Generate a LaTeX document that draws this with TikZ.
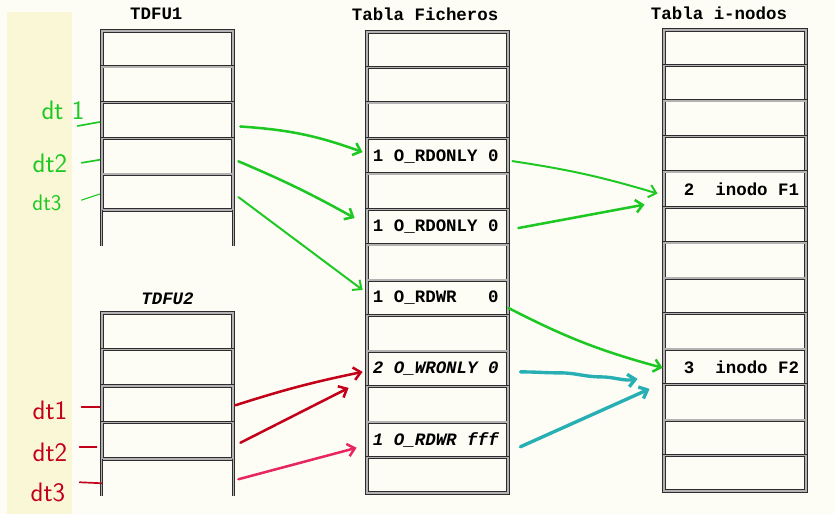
\documentclass[tikz,border=0pt]{standalone}
\usepackage{fontspec}
\setmonofont{Liberation Mono}
\usepackage{tikz}
\usetikzlibrary{arrows.meta, positioning, calc}
\definecolor{papel}{RGB}{253, 253, 246}
\definecolor{tira}{RGB}{249, 247, 214}
\definecolor{marco}{RGB}{45, 45, 45}
\definecolor{verde}{RGB}{30, 200, 35}
\definecolor{rojo}{RGB}{195, 0, 25}
\definecolor{rosa}{RGB}{230, 40, 95}
\definecolor{turquesa}{RGB}{40, 175, 180}

\begin{document}
\begin{tikzpicture}[
        x=0.025cm, y=-0.025cm,
        borde/.style={draw=marco, line width=0.55pt, double=black!30, double distance=1.1pt},
        celda/.style={rectangle, borde, inner xsep=0.15cm, inner ysep=0pt, align=flush left, font=\ttfamily\bfseries\fontsize{12.4}{14}\selectfont},
        tdfu/.style={celda, text width=2.975cm, minimum height=0.895cm},
        tdfub/.style={celda, text width=2.975cm, minimum height=0.9125cm},
        fich/.style={celda, text width=3.225cm, minimum height=0.8865cm},
        inodo/.style={celda, text width=3.25cm, minimum height=0.8865cm},
        titulo/.style={font=\ttfamily\bfseries\fontsize{12.4}{14}\selectfont, inner sep=0pt},
        mano/.style={font=\sffamily\fontsize{19}{20}\selectfont, inner sep=0pt},
        flecha/.style={-{Straight Barb[length=5pt,width=9pt]}, line width=1.8pt, line cap=round, line join=round},
        raya/.style={line width=1.2pt, line cap=round}
    ]
        \fill[papel] (0,0) rectangle (834,514);
        \fill[tira] (7,12) rectangle (72,514);
        \useasboundingbox (0,0) rectangle (834,514);

        % TDFU1
        \foreach \n in {1,...,5}
            \node[tdfu] (t\n) at (167.5, {31+35.8*(\n-0.5)}) {};
        \node[tdfu, draw=none] (t6) at (167.5, {31+35.8*5.5}) {};
        \draw[borde] (t6.north west) -- (t6.south west) (t6.north east) -- (t6.south east);

        % TDFU2
        \foreach \n in {1,...,4}
            \node[tdfub] (u\n) at (167.5, {313+36.5*(\n-0.5)}) {};
        \node[tdfub, draw=none] (u5) at (167.5, {313+36.5*4.5}) {};
        \draw[borde] (u5.north west) -- (u5.south west) (u5.north east) -- (u5.south east);

        % Tabla Ficheros
        \foreach \n/\txt in {1/,2/,3/,4/{1 O\_RDONLY 0},5/,6/{1 O\_RDONLY 0},7/,8/{1 O\_RDWR\ \ \ 0},9/,10/{\itshape 2 O\_WRONLY 0},11/,12/{\itshape 1 O\_RDWR fff},13/}
            \node[fich] (f\n) at (437.5, {32+35.46*(\n-0.5)}) {\txt};

        % Tabla i-nodos
        \foreach \n/\txt in {1/,2/,3/,4/,5/{\hspace*{0.35cm}2\ \ inodo F1},6/,7/,8/,9/,10/{\hspace*{0.35cm}3\ \ inodo F2},11/,12/,13/}
            \node[inodo] (n\n) at (735, {30+35.46*(\n-0.5)}) {\txt};

        \node[titulo, above=0.27cm of t1, xshift=-0.28cm] (cabT1) {TDFU1};
        \node[titulo, above=0.2cm of u1] (cabT2) {\itshape TDFU2};
        \node[titulo, above=0.27cm of f1, xshift=-0.31cm] (cabF) {Tabla Ficheros};
        \node[titulo, above=0.25cm of n1, xshift=-0.4cm] (cabN) {Tabla i-nodos};

        % handwritten
        \node[mano, text=verde] (dv1) at (63,110) {dt 1};
        \node[mano, text=verde] (dv2) at (50,163) {dt2};
        \node[mano, text=verde, font=\sffamily\fontsize{16}{18}\selectfont] (dv3) at (47,203) {dt3};
        \node[mano, text=rojo] (dr1) at (50,410) {dt1};
        \node[mano, text=rojo] (dr2) at (50,452) {dt2};
        \node[mano, text=rojo] (dr3) at (48,492) {dt3};

        \draw[raya, verde] ($(t3.west)+(-24,5.5)$) -- ($(t3.west)+(-2,1.5)$);
        \draw[raya, verde] ($(t4.west)+(-20,6.5)$) -- ($(t4.west)+(-2,3.5)$);
        \draw[raya, verde, line width=0.8pt] ($(t5.west)+(-20,8)$) -- ($(t5.west)+(-2,2)$);
        \draw[raya, rojo] ($(u3.west)+(-20,3)$) -- ($(u3.west)+(-2,3)$);
        \draw[raya, rojo] ($(u4.west)+(-22,6)$) -- ($(u4.west)+(-5,6)$);
        \draw[raya, rojo] ($(u5.west)+(-22,5)$) -- ($(u5.west)+(0,6)$);

        % TDFU -> Tabla Ficheros
        \draw[flecha, verde] ($(t3.east)+(7,6)$) to[bend left=8] ($(f4.west)+(-4,-4)$);
        \draw[flecha, verde] ($(t4.east)+(5,5)$) to[bend left=3] ($(f6.west)+(-12,-9)$);
        \draw[flecha, verde, line width=1.4pt] ($(t5.east)+(5,5)$) -- ($(f8.west)+(-4,-8)$);
        \draw[flecha, rojo] ($(u3.east)+(2,1)$) to[bend left=3] ($(f10.west)+(-4,3)$);
        \draw[flecha, rojo] ($(u4.east)+(7,2)$) -- ($(f10.west)+(-18,19)$);
        \draw[flecha, rosa] ($(u5.east)+(5,2)$) -- ($(f12.west)+(-10,8)$);

        % Tabla Ficheros -> Tabla i-nodos
        \draw[flecha, verde, line width=1.4pt] ($(f4.east)+(4,5)$) to[bend left=4] ($(n5.west)+(-6,4)$);
        \draw[flecha, verde] ($(f6.east)+(10,1)$) -- ($(n5.west)+(-19,15)$);
        \draw[flecha, verde] ($(f8.east)+(0,10)$) to[bend right=6] ($(n10.west)+(-1,1)$);
        \draw[flecha, turquesa, line width=2.4pt] ($(f10.east)+(12,3)$) to[out=0, in=180] ++(40,1) to[out=0, in=180] ++(40,4) to[out=0, in=190] ($(n10.west)+(-26,12)$);
        \draw[flecha, turquesa, line width=2.4pt] ($(f12.east)+(12,7)$) -- ($(n10.west)+(-14,22)$);
    \end{tikzpicture}
\end{document}
